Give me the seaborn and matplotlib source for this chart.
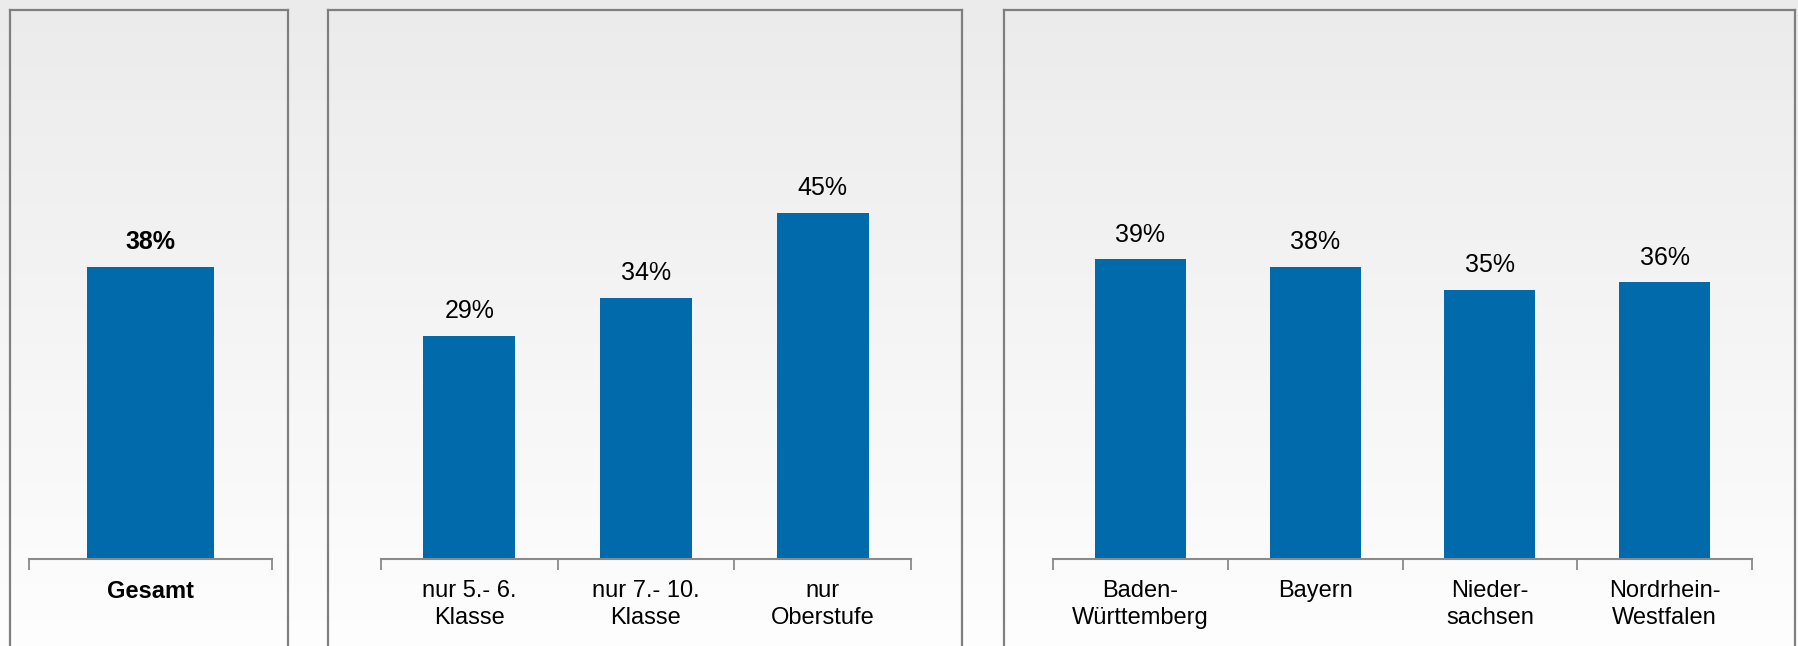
import numpy as np
import pandas as pd
import matplotlib
matplotlib.use("Agg")
import matplotlib.pyplot as plt
from matplotlib.lines import Line2D
from matplotlib.ticker import FixedLocator
import seaborn as sns

# ---- data ----
gesamt_labels = ["Gesamt"]
gesamt_values = [38]

stufe_labels = ["nur 5.- 6.\nKlasse", "nur 7.- 10.\nKlasse", "nur\nOberstufe"]
stufe_values = [29, 34, 45]

land_labels = ["Baden-\nWürttemberg", "Bayern", "Nieder-\nsachsen", "Nordrhein-\nWestfalen"]
land_values = [39, 38, 35, 36]

BAR = "#006AAB"
GRID = "#8a8a8a"
BOX = "#7f7f7f"

sns.set_theme(style="white")
plt.rcParams["font.family"] = ["Liberation Sans", "DejaVu Sans"]

W, H = 1799, 646
fig = plt.figure(figsize=(W / 100, H / 100), dpi=100)

# background gradient
bg = fig.add_axes([0, 0, 1, 1], zorder=-10)
grad = np.linspace(0.922, 0.995, 256).reshape(-1, 1)
bg.imshow(np.dstack([grad, grad, grad]), aspect="auto", extent=[0, 1, 0, 1])
bg.set_axis_off()

# panel boxes (pixel coords from top-left)
def box(x0, x1, top=10):
    for xs, ys in [([x0, x0], [top, H + 5]), ([x1, x1], [top, H + 5]), ([x0, x1], [top, top])]:
        fig.add_artist(Line2D([x / W for x in xs], [1 - y / H for y in ys],
                              color=BOX, lw=1.6, transform=fig.transFigure,
                              solid_capstyle="projecting"))

box(10, 288)
box(328, 962)
box(1004, 1795)

axis_y = 558.7
ppu = 7.68
ymax = 60
ax_h = ymax * ppu

def make_axes(x0, x1, labels, values, bold=False):
    ax = fig.add_axes([x0 / W, (H - axis_y) / H, (x1 - x0) / W, ax_h / H])
    df = pd.DataFrame({"cat": labels, "val": values})
    sns.barplot(data=df, x="cat", y="val", color=BAR, width=0.52, ax=ax,
                saturation=1, edgecolor="none")
    n = len(labels)
    ax.set_xlim(-0.5, n - 0.5)
    ax.set_ylim(0, ymax)
    ax.set_facecolor("none")
    for s in ["top", "right", "left"]:
        ax.spines[s].set_visible(False)
    ax.spines["bottom"].set_color(GRID)
    ax.spines["bottom"].set_linewidth(1.5)
    ax.set_yticks([])
    ax.set_xlabel("")
    ax.set_ylabel("")
    ax.xaxis.set_minor_locator(FixedLocator(np.arange(-0.5, n, 1.0)))
    ax.tick_params(axis="x", which="minor", bottom=True, length=8, width=1.3,
                   color=GRID, direction="out")
    ax.tick_params(axis="x", which="major", bottom=True, length=0, pad=15,
                   labelsize=17, labelcolor="black")
    for t in ax.get_xticklabels():
        t.set_linespacing(1.3)
        if bold:
            t.set_fontweight("bold")
    for i, v in enumerate(values):
        ax.text(i, v + 2.3, f"{v}%", ha="center", va="baseline", fontsize=18,
                color="black", fontweight="bold" if bold else "normal")
    return ax

make_axes(28.7, 272, gesamt_labels, gesamt_values, bold=True)
make_axes(381, 911, stufe_labels, stufe_values)
make_axes(1053, 1752, land_labels, land_values)

fig.savefig("out.png", dpi=100)
